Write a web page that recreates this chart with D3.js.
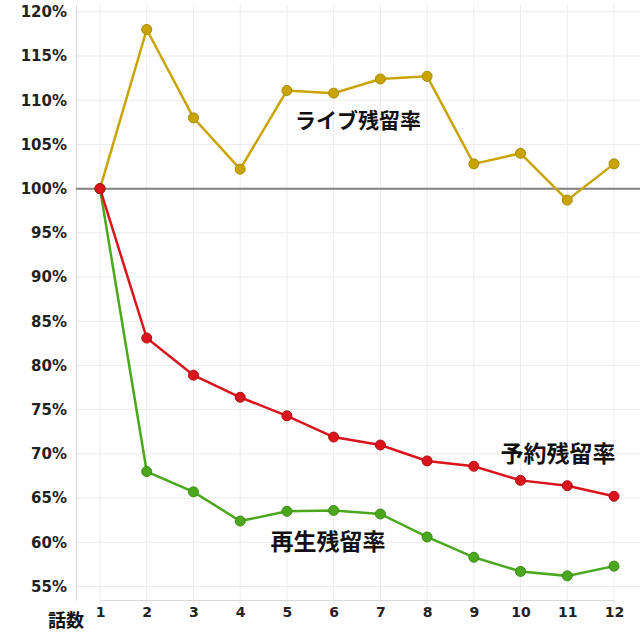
<!DOCTYPE html>
<html>
<head>
<meta charset="utf-8">
<script src="https://cdn.jsdelivr.net/npm/d3@7"></script>
<style>
  body { margin: 0; background: #fff; }
  .label { font-family: "Noto Sans CJK JP", sans-serif; font-weight: bold; fill: #111; }
</style>
</head>
<body>
<div id="chart"></div>
<script>
// episodes
const episodes = [1, 2, 3, 4, 5, 6, 7, 8, 9, 10, 11, 12];
// retention rates (%)
const liveRate = [100, 118.0, 108.0, 102.2, 111.1, 110.8, 112.4, 112.7, 102.8, 104.0, 98.7, 102.8];
const reserveRate = [100, 83.1, 78.9, 76.4, 74.3, 71.9, 71.0, 69.2, 68.6, 67.0, 66.4, 65.2];
const playRate = [100, 68.0, 65.7, 62.4, 63.5, 63.6, 63.2, 60.6, 58.3, 56.7, 56.2, 57.3];
const yTicks = [55, 60, 65, 70, 75, 80, 85, 90, 95, 100, 105, 110, 115, 120];

const series = [
  { name: "ライブ残留率", values: liveRate, color: "#c9a400", stroke: "#a88900", lx: 6.52, ly: 106.9, size: 21 },
  { name: "再生残留率", values: playRate, color: "#4ba81e", stroke: "#3a8a14", lx: 5.88, ly: 59.1, size: 23 },
  { name: "予約残留率", values: reserveRate, color: "#d9141c", stroke: "#b00e14", lx: 10.8, ly: 69.1, size: 23 },
];

const config = {
  width: 640, height: 640,
  margin: { top: 5, right: 0, bottom: 40, left: 76 },
};
const innerW = config.width - config.margin.left - config.margin.right;
const innerH = config.height - config.margin.top - config.margin.bottom;

const svg = d3.select("#chart").append("svg")
  .attr("width", config.width)
  .attr("height", config.height);
const g = svg.append("g")
  .attr("transform", `translate(${config.margin.left},${config.margin.top})`);

const x = d3.scaleLinear().domain([1, 12]).range([24, 538]);
const y = d3.scaleLinear().domain([53.47, 120.77]).range([innerH, 0]);

// grid
g.append("g").selectAll("line.hgrid").data(yTicks).join("line")
  .attr("class", "hgrid")
  .attr("x1", 0).attr("x2", innerW)
  .attr("y1", d => y(d)).attr("y2", d => y(d))
  .attr("stroke", "#ebebeb").attr("stroke-width", 1);
g.append("g").selectAll("line.vgrid").data(episodes).join("line")
  .attr("class", "vgrid")
  .attr("x1", d => x(d)).attr("x2", d => x(d))
  .attr("y1", 0).attr("y2", innerH + 4)
  .attr("stroke", "#ebebeb").attr("stroke-width", 1);

// axes
const yAxis = g.append("g")
  .call(d3.axisLeft(y).tickValues(yTicks).tickFormat(d => d + "%").tickSize(0).tickPadding(9));
yAxis.select(".domain").attr("stroke", "#d8d8d8");
yAxis.selectAll("text")
  .style("font-family", "'DejaVu Sans', sans-serif")
  .style("font-weight", "bold")
  .style("font-size", "15px")
  .style("fill", "#222");

const xAxis = g.append("g")
  .attr("transform", `translate(0,${innerH})`)
  .call(d3.axisBottom(x).tickValues(episodes).tickFormat(d3.format("d")).tickSize(0).tickPadding(7));
xAxis.select(".domain").attr("stroke", "#d8d8d8");
xAxis.selectAll("text")
  .style("font-family", "'DejaVu Sans', sans-serif")
  .style("font-weight", "bold")
  .style("font-size", "14px")
  .style("fill", "#222");

svg.append("text")
  .attr("class", "label")
  .attr("x", 48).attr("y", 627)
  .style("font-size", "18px")
  .text("話数");

// 100% reference
g.append("line")
  .attr("x1", 0).attr("x2", innerW)
  .attr("y1", y(100)).attr("y2", y(100))
  .attr("stroke", "#808080").attr("stroke-width", 2);

const line = d3.line()
  .x((d, i) => x(episodes[i]))
  .y(d => y(d));

series.forEach(s => {
  g.append("path")
    .datum(s.values)
    .attr("d", line)
    .attr("fill", "none")
    .attr("stroke", s.color)
    .attr("stroke-width", 2.5);
  g.append("g").selectAll("circle").data(s.values).join("circle")
    .attr("cx", (d, i) => x(episodes[i]))
    .attr("cy", d => y(d))
    .attr("r", 5)
    .attr("fill", s.color)
    .attr("stroke", s.stroke)
    .attr("stroke-width", 1);
  g.append("text")
    .attr("class", "label")
    .attr("x", x(s.lx)).attr("y", y(s.ly))
    .attr("text-anchor", "middle")
    .style("font-size", s.size + "px")
    .text(s.name);
});
</script>
</body>
</html>
